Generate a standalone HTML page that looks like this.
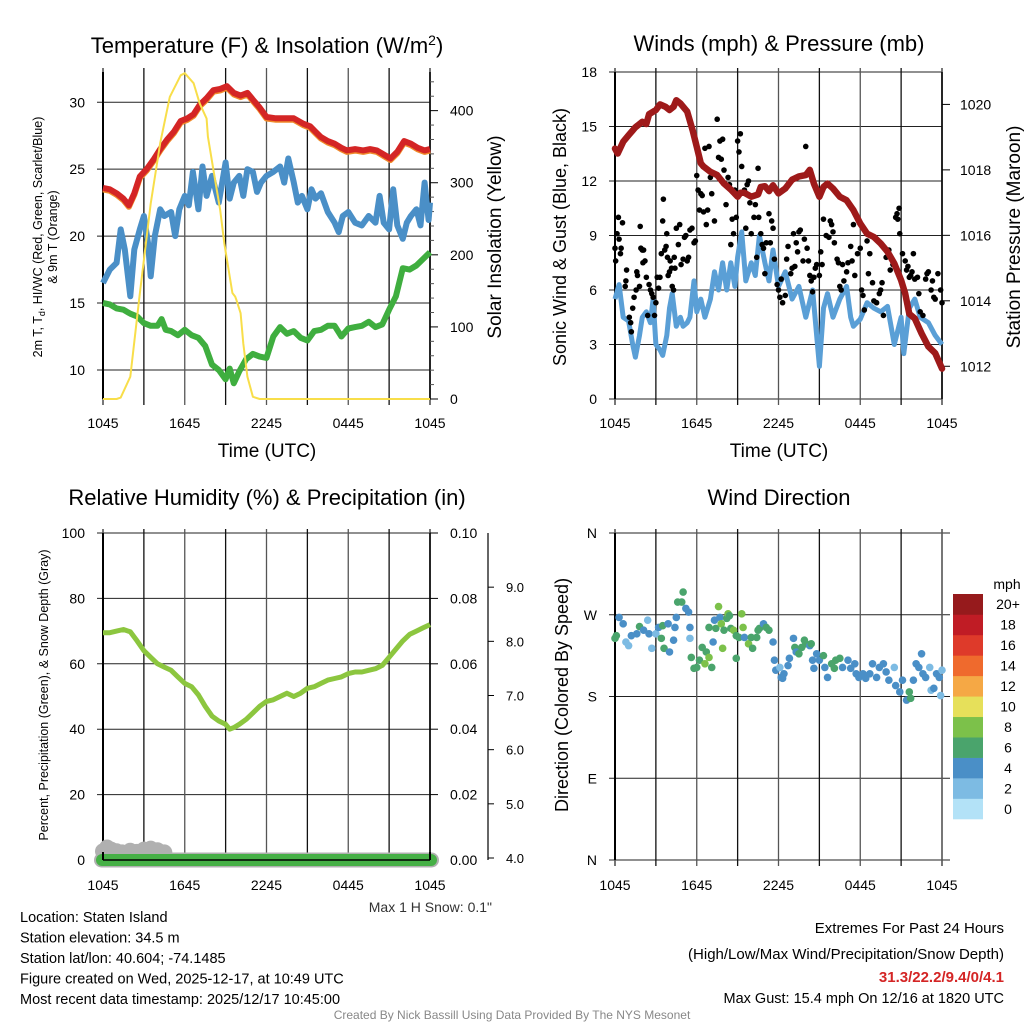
<!DOCTYPE html>
<html><head><meta charset="utf-8"><style>
body{margin:0;background:#fff;}
svg{display:block;font-family:"Liberation Sans",sans-serif;}
</style></head><body>
<svg id="c" width="1024" height="1024" viewBox="0 0 1024 1024"></svg>
<script>
// ---------- data ----------
const xLabels=["1045","1645","2245","0445","1045"];
const tHours=[0,0.5,1,1.5,1.9,2.3,2.7,3.2,3.7,4.2,4.7,5.2,5.7,6.2,6.65,7.1,7.6,8.1,8.6,9.1,9.6,10.1,10.6,11,11.5,12,12.7,13.3,14,14.7,15.2,15.6,16,16.5,17,17.5,17.9,18.5,19.1,19.6,20.1,20.6,21.1,21.6,22.1,22.6,23.1,23.6,24];
const tempRed=[23.6,23.5,23.2,22.8,22.3,23.2,24.45,25.0,25.7,26.5,27.2,27.8,28.6,28.8,29.1,29.8,30.3,30.9,31.0,31.2,30.7,30.5,30.7,30.2,29.6,28.9,28.8,28.8,28.8,28.4,28.2,27.8,27.4,27.1,26.9,26.6,26.4,26.5,26.4,26.5,26.4,26.1,25.8,26.3,27.1,26.9,26.6,26.4,26.5];
const blueHours=[0,0.5,1,1.3,1.6,2,2.3,2.7,3,3.3,3.5,3.8,4.2,4.5,5,5.3,5.6,6,6.3,6.6,7,7.3,7.6,8,8.5,9,9.3,9.6,10,10.3,10.6,11,11.3,11.6,12,12.5,13,13.3,13.6,14,14.3,14.6,15,15.3,15.6,16,16.5,17,17.3,17.6,18,18.5,19,19.5,20,20.3,20.6,21,21.3,21.6,22,22.3,22.6,23,23.3,23.6,23.9,24];
const tempBlue=[16.5,17.5,18,20.5,19,15.5,19,20.5,21.5,19.5,17,20,22,21.5,21.8,20,22,23,22.3,24.8,22,25.2,23,24.5,22.5,25.5,22.8,24,24.5,23,25,24.8,23.3,24,24.5,24.8,25.2,24.0,25.8,24,22.5,23,22,23.5,22.8,23.2,21.8,21,20.3,21.5,21.8,21,20.8,21.5,21,23,21,20.5,23.5,20.8,19.8,21,21.5,22,20.8,24,21.2,22.5];
const greenHours=[0,0.5,1,1.5,2,2.5,3,3.5,4,4.3,4.6,5,5.5,6,6.5,7,7.5,8,8.5,9,9.3,9.6,10,10.5,11,11.5,12,12.5,13,13.5,14,14.5,15,15.5,16,16.5,17,17.5,18,18.5,19,19.5,20,20.5,21,21.5,22,22.5,23,23.5,24];
const tempGreen=[15,14.9,14.6,14.5,14.2,14.0,13.5,13.3,13.3,13.8,13.0,12.9,12.6,13.0,12.6,12.4,11.8,10.4,10.0,9.3,10.1,9.0,9.9,10.8,11.2,11.0,10.9,12.5,13.2,12.7,12.9,12.4,12.2,12.9,13,13.3,13.3,12.5,13.1,13.2,13.3,13.6,13.2,13.4,14.5,15.5,17.6,17.5,17.8,18.3,18.8];
const solarHours=[0,1,1.3,2,2.7,3.5,4.2,4.9,5.7,6.0,6.65,7.1,7.6,7.7,8.1,8.6,8.9,9.1,9.5,9.7,9.8,10.1,10.3,10.6,11,11.5,24];
const solar=[0,0,2,31,146,271,355,419,449,452,438,410,389,364,318,262,216,193,147,142,137,119,77,31,3,0,0];
const windHours=[0,0.3,0.6,1,1.3,1.5,1.8,2,2.3,2.6,2.8,3,3.3,3.5,3.8,4.0,4.2,4.5,4.8,5,5.3,5.5,5.8,6,6.3,6.6,7,7.3,7.6,7.9,8.2,8.5,8.8,9,9.3,9.6,10,10.3,10.6,11,11.3,11.6,12,12.5,13,13.5,14,14.5,15,15.3,15.6,16,16.5,17,17.3,17.5,18,18.5,19,19.5,20,20.5,21,21.2,21.6,22,22.4,23,23.5,24];
const windSpeed=[5.5,6.3,4.5,4.3,3,2.3,3.5,4.5,4.8,4.2,5.5,3,2.7,2.4,3.5,5,5.8,4,4.5,4,4.2,4.5,6.5,4.8,5.5,4.5,5.5,7,6,7.5,6,7.5,6.2,7.8,9.2,6.5,7.5,6.8,9,7.5,6.5,8.2,6.2,7,5.5,6.2,4.5,6,1.8,5,5.8,4.5,5.5,6.2,4.5,4,4.4,5.3,5,4.8,5.1,3,4.5,2.5,5,5.5,4.5,4.2,3.5,3];
const gustHours=[0,0.05,0.15,0.25,0.3,0.4,0.45,0.55,0.75,0.8,0.85,1.05,1.15,1.2,1.3,1.4,1.55,1.6,1.65,1.8,1.85,1.9,2.0,2.05,2.1,2.2,2.3,2.4,2.5,2.6,2.7,2.8,2.9,3.0,3.1,3.2,3.3,3.4,3.5,3.55,3.65,3.75,3.8,3.85,3.9,4.0,4.05,4.15,4.2,4.3,4.35,4.4,4.5,4.65,4.75,4.85,5.0,5.1,5.2,5.3,5.4,5.5,5.65,5.8,5.9,6.0,6.1,6.2,6.3,6.4,6.5,6.6,6.7,6.8,6.9,7.0,7.1,7.3,7.5,7.6,7.7,7.8,7.9,8.0,8.1,8.15,8.3,8.4,8.5,8.6,8.7,8.8,8.9,9.0,9.1,9.2,9.3,9.5,9.6,9.7,9.8,9.9,10.0,10.2,10.3,10.4,10.5,10.55,10.7,10.8,10.9,11.0,11.1,11.3,11.4,11.5,11.6,11.7,11.9,12.0,12.1,12.2,12.3,12.5,12.6,12.7,12.9,13.0,13.1,13.2,13.3,13.4,13.5,13.6,13.8,13.9,14.0,14.1,14.2,14.3,14.4,14.5,14.6,14.7,14.8,15.0,15.1,15.2,15.3,15.5,15.7,15.8,15.9,16.0,16.1,16.3,16.4,16.5,16.6,16.7,16.8,17.0,17.1,17.3,17.4,17.5,17.6,17.8,18.0,18.1,18.2,18.3,18.5,18.6,18.7,18.9,19.0,19.2,19.4,19.5,19.6,19.7,19.9,20.1,20.2,20.4,20.6,20.7,20.75,20.85,20.9,21.1,21.3,21.4,21.5,21.6,21.7,21.8,21.9,22.0,22.2,22.3,22.4,22.6,22.8,22.9,23.0,23.2,23.3,23.4,23.5,23.7,23.9,24.0];
const gusts=[8.3,7.6,9.1,10,8.8,8.0,8.3,9.7,6.2,6.5,7.1,4.5,4.2,3.7,5.0,5.6,6.0,7.0,6.8,6.2,9.5,8.3,8.2,7.5,8.2,7.6,6.7,4.6,6.3,6.0,5.8,5.6,4.6,5.3,6.7,6.1,6.7,8.0,9.8,11.0,8.2,8.4,9.1,7.8,6.8,7.0,7.6,7.2,6.2,6.0,7.8,7.2,9.4,8.5,9.6,7.4,7.7,8.9,9.0,7.6,7.8,9.3,9.4,8.6,8.7,12.3,11.5,10.4,11.3,11.2,10.3,13.8,9.6,10.4,13.9,12.2,11.3,9.8,15.4,13.3,14.2,13.2,14.3,12.6,11.8,10.7,12.2,11.8,8.5,9.9,9.1,11.5,10.0,14.2,13.6,14.6,12.8,11.5,9.4,11.8,12.0,10.8,9.1,10.0,10.7,7.8,12.7,10,9.1,8.5,8.3,6.9,8.6,10.2,8.6,9.8,9.4,7.7,6.3,6.0,5.6,6.6,5.3,5.7,7.7,8.4,6.9,7.2,9.1,7.3,8.6,8.1,9.2,9.3,7.6,8.8,13.9,8.3,7.6,6.8,6.5,5.9,6.7,7.2,7.4,6.8,8.1,7.4,9.9,9.0,8.9,9.8,9.6,9.2,8.6,7.7,7.5,6.2,6.0,7.4,6.5,7.0,7.5,8.4,7.6,9.6,6.8,8.0,8.3,6.0,5.7,4.9,8.7,6.9,8.0,6.4,5.4,5.3,5.8,6.0,6.4,4.6,7.8,8.2,7.1,7.4,10.0,10.2,9.9,10.5,9.1,8.0,7.6,7.1,7.3,6.7,6.8,7.0,8.0,6.6,6.7,5.8,4.8,4.6,6.6,6.9,7.0,6.0,6.5,5.6,5.5,6.9,6.0,5.3];
const presHours=[0,0.2,0.6,1,1.5,2,2.3,2.5,3,3.3,3.7,4,4.3,4.5,4.8,5,5.3,5.7,6,6.3,6.5,7,7.5,8,8.5,9,9.2,9.5,10,10.5,10.7,11,11.3,11.6,12,12.5,13,13.5,14,14.3,14.6,15,15.3,15.6,16,16.5,17,17.5,18,18.5,19,19.5,20,20.5,21,21.3,21.6,22,22.5,23,23.5,24];
const pressure=[1018.65,1018.5,1018.86,1019.06,1019.3,1019.47,1019.4,1019.7,1019.83,1020.0,1019.93,1019.83,1019.93,1020.13,1020.03,1019.93,1019.78,1019.2,1018.7,1018.2,1018.1,1017.94,1017.84,1017.58,1017.4,1017.18,1017.3,1017.3,1017.18,1017.25,1017.48,1017.5,1017.35,1017.53,1017.28,1017.43,1017.7,1017.8,1017.84,1018.0,1017.58,1017.18,1017.48,1017.58,1017.43,1017.18,1017.07,1016.77,1016.36,1016.05,1015.95,1015.75,1015.5,1015.14,1014.63,1014.22,1013.6,1013.46,1013.0,1012.6,1012.4,1011.93];
const rhHours=[0,0.5,1,1.5,2,2.5,3,3.5,4,4.5,5,5.5,6,6.5,7,7.5,8,8.5,9,9.3,9.6,10,10.5,11,11.5,12,12.5,13,13.5,14,14.5,15,15.5,16,16.5,17,17.5,18,18.5,19,19.5,20,20.5,21,21.5,22,22.5,23,23.5,24];
const rh=[69.5,69.5,70,70.5,69.8,67,64,62,60,59,58,56,54,53,50.5,47,44,42.5,41.5,40,40.5,41.5,43,45,47,48.5,49,50,51,50,51,52.5,53,54,55,55.5,56,57,57.5,57.5,58,58.5,59.5,62,64.5,67,69,70,71,72];
const snowHours=[0,0.3,0.6,1.0,1.4,2.0,2.5,3.0,3.5,4.0,4.5];
const snowDepth=[4.05,4.12,4.08,4.05,4.03,4.06,4.04,4.08,4.1,4.07,4.03];
const dirHours=[0,0.1,0.3,0.6,0.8,1.0,1.2,1.6,1.8,2.1,2.4,2.5,2.7,3.0,3.2,3.4,3.5,3.6,3.9,4.0,4.3,4.4,4.5,4.6,4.9,5.0,5.2,5.4,5.5,5.5,5.6,5.8,6.0,6.2,6.4,6.6,6.7,6.9,7.1,6.9,7.2,7.3,7.4,7.6,7.7,7.8,7.9,8.0,8.2,8.3,8.4,8.5,8.7,8.9,8.9,9.1,9.3,9.4,9.5,9.8,10.0,10.1,10.4,10.5,10.6,10.9,11.1,11.3,11.6,11.7,11.8,12.1,12.2,12.3,12.4,12.7,12.8,13.1,13.2,13.3,13.5,13.7,13.9,14.0,14.3,14.4,14.5,14.6,14.8,15.0,15.3,15.4,15.6,15.9,16.1,16.2,16.5,16.7,17.1,17.3,17.6,17.7,17.9,18.2,18.4,18.7,18.9,19.2,19.4,19.7,19.9,20.1,20.5,20.6,20.9,21.1,21.4,21.6,21.7,21.9,22.1,22.3,22.5,22.6,22.8,23.1,23.2,23.4,23.6,23.8,23.9,24.0];
const dirDeg=[244,247,267,260,240,236,247,249,257,253,264,249,233,249,256,244,258,233,260,229,242,256,267,284,284,295,277,273,256,244,223,211,212,220,234,216,229,223,212,256,240,264,255,279,267,260,233,253,266,271,269,255,253,222,247,245,271,256,245,238,245,233,245,253,255,260,256,253,240,220,209,212,201,200,205,214,222,244,234,229,227,234,242,238,236,238,220,211,227,220,225,212,201,216,211,220,222,212,220,211,216,205,201,205,200,205,216,201,212,216,207,198,212,192,185,198,176,185,178,198,216,212,227,205,201,212,187,189,205,201,181,209];
const dirSpeed=[6,6,4,4,2,2,4,4,6,4,2,4,2,2,4,6,6,6,4,4,4,4,4,6,6,6,4,4,4,2,6,6,6,6,6,8,6,8,6,6,4,4,6,8,4,8,8,6,6,8,6,6,8,6,6,6,8,8,4,8,6,6,6,6,6,4,6,6,4,4,4,2,4,4,4,4,4,4,6,4,6,6,6,6,4,6,4,4,4,4,6,4,4,6,6,6,6,4,4,4,4,4,4,4,4,4,4,4,4,4,4,4,2,4,4,4,4,6,6,4,4,4,4,4,4,2,2,4,4,4,2,2];
const cbLabels=["0","2","4","6","8","10","12","14","16","18","20+"];
const cbColors=["#b3e2f7","#7dbbe3","#4a8fc7","#4aa46c","#7cc14a","#e6e05a","#f5a845","#ef6a2d","#de3a2a","#c01c25","#961a1c"];

// ---------- helpers ----------
const S=document.getElementById('c');const NS="http://www.w3.org/2000/svg";
function el(t,a,p){const e=document.createElementNS(NS,t);for(const k in a)e.setAttribute(k,a[k]);(p||S).appendChild(e);return e;}
function txt(s,x,y,size,anchor,p,extra){const e=el('text',Object.assign({x:x,y:y,'font-size':size,'text-anchor':anchor||'start',fill:'#000'},extra||{}),p);e.textContent=s;return e;}
function lin(d0,d1,r0,r1){return v=>r0+(v-d0)*(r1-r0)/(d1-d0);}
function path(xs,ys,fx,fy){return xs.map((h,i)=>(i?'L':'M')+fx(h).toFixed(1)+','+fy(ys[i]).toFixed(1)).join('');}

function frame(g,L,R,T,B,yTicks,fy,yLab,hExt){
  yTicks.forEach((v,i)=>{const y=fy(v);const ln=el('line',{x1:L-6,x2:R+(hExt||0),y1:y,y2:y,stroke:'#222','stroke-width':1},g);
    
    const t=txt(yLab[i],L-18,y+5,14,'end',g);});
  const fx=lin(0,24,L,R);
  for(let k=0;k<=8;k++){const x=fx(k*3);const ln=el('line',{x1:x,x2:x,y1:T-4,y2:B+6,stroke:k%2?'#111':'#555','stroke-width':k==0||k==8?1.6:1.3},g);
    }
  el('line',{x1:L,x2:L,y1:T,y2:B,stroke:'#000','stroke-width':2},g);
  return fx;
}
function xlabels(g,fx,y){xLabels.forEach((s,i)=>{const t=txt(s,fx(i*6),y,14,'middle',g);});}

// ---------- panel 1 ----------
{const g=el('g',{});
const L=103,R=430,T=72,B=399;
const fy=lin(7.83,32.26,B,T);const fs=lin(0,453.6,B,T);
const fx=frame(g,L,R,T,B,[10,15,20,25,30],fy,["10","15","20","25","30"]);
const ra=el('line',{x1:R,x2:R,y1:T,y2:B,stroke:'#000','stroke-width':1.5},g);
[0,100,200,300,400].forEach(v=>{const y=fs(v);el('line',{x1:R,x2:R+8,y1:y,y2:y,stroke:'#000'},g);const t=txt(String(v),R+20,y+5,14,'start',g);});
for(let v=20;v<450;v+=20){if(v%100){const y=fs(v);el('line',{x1:R,x2:R+4,y1:y,y2:y,stroke:'#555'},g);}}
let p=el('path',{d:path(greenHours,tempGreen,fx,fy),fill:'none',stroke:'#3fae3f','stroke-width':6,'stroke-linejoin':'round'},g);
p=el('path',{d:path(blueHours,tempBlue,fx,fy),fill:'none',stroke:'#4a8fc7','stroke-width':6,'stroke-linejoin':'round'},g);
p=el('path',{d:path(tHours,tempRed,fx,v=>fy(v)+1.5),fill:'none',stroke:'#f08a2a','stroke-width':6,'stroke-linejoin':'round'},g);
p=el('path',{d:path(tHours,tempRed,fx,fy),fill:'none',stroke:'#d42525','stroke-width':6,'stroke-linejoin':'round'},g);
p=el('path',{d:path(solarHours,solar,fx,fs),fill:'none',stroke:'#f8de4a','stroke-width':2,'stroke-linejoin':'round'},g);
xlabels(g,fx,428);
let t=txt('Time (UTC)',267,457,19,'middle',g);
t=txt('',267,53,22,'middle',g);t.innerHTML='Temperature (F) &amp; Insolation (W/m<tspan dy="-8" font-size="14">2</tspan><tspan dy="8">)</tspan>';
t=txt('Solar Insolation (Yellow)',0,0,19,'middle',g,{transform:'translate(501,237) rotate(-90)'});
t=txt('',0,0,12.5,'middle',g,{transform:'translate(42,237) rotate(-90)'});t.innerHTML='2m T, T<tspan dy="3" font-size="9">d</tspan><tspan dy="-3">, HI/WC (Red, Green, Scarlet/Blue)</tspan>';
t=txt('& 9m T (Orange)',0,0,12.5,'middle',g,{transform:'translate(57,237) rotate(-90)'});
}
// ---------- panel 2 ----------
{const g=el('g',{});
const L=615,R=942,T=72,B=399;
const fy=lin(0,18,B,T);const fp=lin(1011.0,1020.99,B,T);
const fx=frame(g,L,R,T,B,[0,3,6,9,12,15,18],fy,["0","3","6","9","12","15","18"]);
el('line',{x1:R,x2:R,y1:T,y2:B,stroke:'#000','stroke-width':1.5},g);
[1012,1014,1016,1018,1020].forEach(v=>{const y=fp(v);el('line',{x1:R,x2:R+8,y1:y,y2:y,stroke:'#000'},g);const t=txt(String(v),R+18,y+5,14,'start',g);});
let p=el('path',{d:path(windHours,windSpeed,fx,fy),fill:'none',stroke:'#5a9fd6','stroke-width':5,'stroke-linejoin':'round'},g);
gustHours.forEach((h,i)=>{const c=el('circle',{cx:fx(h),cy:fy(gusts[i]),r:2.8,fill:'#000'},g);

});
p=el('path',{d:path(presHours,pressure,fx,fp),fill:'none',stroke:'#9e1a1a','stroke-width':6.5,'stroke-linejoin':'round','stroke-linecap':'round'},g);
xlabels(g,fx,428);
let t=txt('Time (UTC)',779,457,19,'middle',g);
t=txt('Winds (mph) & Pressure (mb)',779,51,22,'middle',g);
t=txt('Sonic Wind & Gust (Blue, Black)',0,0,18,'middle',g,{transform:'translate(566,237) rotate(-90)'});
t=txt('Station Pressure (Maroon)',0,0,19,'middle',g,{transform:'translate(1020,237) rotate(-90)'});
}
// ---------- panel 3 ----------
{const g=el('g',{});
const L=103,R=430,T=533,B=860;
const fy=lin(0,100,B,T);const fsn=lin(4,10,B-2,T);
const fx=frame(g,L,R,T,B,[0,20,40,60,80,100],fy,["0","20","40","60","80","100"]);
el('line',{x1:R,x2:R,y1:T,y2:B,stroke:'#000','stroke-width':1.5},g);
["0.00","0.02","0.04","0.06","0.08","0.10"].forEach((s,i)=>{const y=fy(i*20);el('line',{x1:R,x2:R+8,y1:y,y2:y,stroke:'#000'},g);const t=txt(s,R+20,y+5,14,'start',g);});
el('line',{x1:488,x2:488,y1:T,y2:B,stroke:'#000','stroke-width':1.2},g);
["4.0","5.0","6.0","7.0","8.0","9.0"].forEach((s,i)=>{const y=fsn(4+i);el('line',{x1:488,x2:494,y1:y,y2:y,stroke:'#000'},g);const t=txt(s,515,y+5,13,'middle',g);});
snowHours.forEach((h,i)=>{const c=el('circle',{cx:fx(h),cy:fsn(snowDepth[i])-4,r:8,fill:'#b0b0b0'},g);

});
let r=el('rect',{x:L-9,y:fy(0)-7.5,width:R-L+18,height:15,rx:7.5,fill:'#b0b0b0'},g);
r=el('rect',{x:L-7,y:fy(0)-6,width:R-L+14,height:12,rx:6,fill:'#46b046'},g);
el('line',{x1:L,x2:R,y1:fy(0),y2:fy(0),stroke:'#000','stroke-width':1.5},g);
el('line',{x1:L,x2:L,y1:fy(0)-8,y2:fy(0),stroke:'#000','stroke-width':2},g);
el('line',{x1:R,x2:R,y1:fy(0)-8,y2:fy(0),stroke:'#000','stroke-width':2},g);
let p=el('path',{d:path(rhHours,rh,fx,fy),fill:'none',stroke:'#8cc63f','stroke-width':5,'stroke-linejoin':'round'},g);
xlabels(g,fx,890);
let t=txt('Relative Humidity (%) & Precipitation (in)',267,505,22,'middle',g);
t=txt('Percent, Precipitation (Green), & Snow Depth (Gray)',0,0,12.5,'middle',g,{transform:'translate(48,695) rotate(-90)'});
t=txt('Max 1 H Snow: 0.1"',492,912,14,'end',g,{fill:'#333'});
}
// ---------- panel 4 ----------
{const g=el('g',{});
const L=615,R=942,T=533,B=860;
const fy=lin(0,360,B,T);
const fx=frame(g,L,R,T,B,[0,90,180,270,360],fy,["N","E","S","W","N"],8);
dirHours.forEach((h,i)=>{const c=el('circle',{cx:fx(h),cy:fy(dirDeg[i]),r:3.8,fill:cbColors[dirSpeed[i]/2]},g);

});
xlabels(g,fx,890);
let t=txt('Wind Direction',779,505,22,'middle',g);
t=txt('Direction (Colored By Speed)',0,0,18,'middle',g,{transform:'translate(568,695) rotate(-90)'});
const cb=el('g',{},g);
const h=(819-594)/11;
cbColors.forEach((c,i)=>{const r=el('rect',{x:953,y:819-(i+1)*h,width:30,height:h+0.3,fill:c},cb);
const t2=txt(cbLabels[i],1008,819-(i+0.5)*h+5,14,'middle',cb);});
t=txt('mph',1007,589,14,'middle',cb);
}
// ---------- footer text ----------
{const g=el('g',{});
["Location: Staten Island","Station elevation: 34.5 m","Station lat/lon: 40.604; -74.1485","Figure created on Wed, 2025-12-17, at 10:49 UTC","Most recent data timestamp: 2025/12/17 10:45:00"].forEach((s,i)=>{const t=txt(s,20,922+i*20.5,14.5,'start',g);});
const g2=el('g',{});
let t=txt('Extremes For Past 24 Hours',1004,933,15,'end',g2);
t=txt('(High/Low/Max Wind/Precipitation/Snow Depth)',1004,959,15,'end',g2);
t=txt('31.3/22.2/9.4/0/4.1',1004,982,15,'end',g2,{fill:'#d42525','font-weight':'bold'});
t=txt('Max Gust: 15.4 mph On 12/16 at 1820 UTC',1004,1003,14.5,'end',g2);
t=txt('Created By Nick Bassill Using Data Provided By The NYS Mesonet',512,1019,12,'middle',null,{fill:'#888'});
}
</script>
</body></html>
